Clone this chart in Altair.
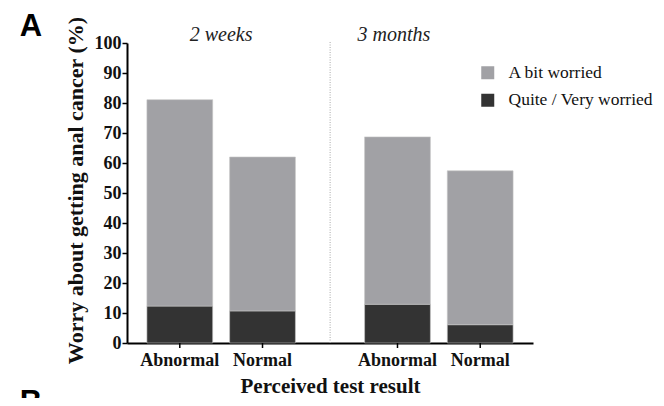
import altair as alt
import pandas as pd

SERIF = "Liberation Serif"

periods = ["2 weeks", "2 weeks", "3 months", "3 months"]
results = ["Abnormal", "Normal", "Abnormal", "Normal"]
quite_very = [12.3, 10.7, 12.9, 6.1]
a_bit = [68.8, 51.3, 55.8, 51.3]

period_order = ["2 weeks", "3 months"]
result_order = ["Abnormal", "Normal"]
levels = ["A bit worried", "Quite / Very worried"]
level_colors = ["#a1a1a5", "#333333"]
y_ticks = [0, 10, 20, 30, 40, 50, 60, 70, 80, 90, 100]

rows = []
for p, r, q, a in zip(periods, results, quite_very, a_bit):
    rows.append({"period": p, "result": r, "level": levels[1], "pct": q, "order": 0})
    rows.append({"period": p, "result": r, "level": levels[0], "pct": a, "order": 1})
df = pd.DataFrame(rows)
cats = pd.DataFrame({"period": periods, "result": results})

xscale = alt.Scale(paddingInner=0.24, paddingOuter=0.0525)
xoff = alt.XOffset("result:N", sort=result_order,
                   scale=alt.Scale(paddingInner=0.205, paddingOuter=0.1025))

bottom_axis = alt.Axis(
    orient="bottom", labels=False, ticks=False, domain=True,
    domainColor="black", domainWidth=2,
    title="Perceived test result", titleFont=SERIF, titleFontSize=21,
    titleFontWeight="bold", titleColor="#111", titleX=203, titleY=49,
    titleBaseline="alphabetic", titleAlign="center",
)

top_axis = alt.Axis(
    orient="top", domain=False, ticks=False, tickSize=0, labelAngle=0,
    labelFont=SERIF, labelFontSize=20, labelFontStyle="italic",
    labelBaseline="alphabetic", labelPadding=3, labelColor="#222",
    labelOffset={"condition": {"test": "datum.label == '3 months'", "value": -45}, "value": 0},
    title=None,
)

bars = alt.Chart(df).mark_bar(stroke="#c4c4c4", strokeWidth=0.6).encode(
    x=alt.X("period:N", sort=period_order, scale=xscale, axis=bottom_axis),
    xOffset=xoff,
    y=alt.Y("pct:Q", stack="zero",
            scale=alt.Scale(domain=[0, 100], nice=False),
            axis=alt.Axis(
                values=y_ticks, grid=False,
                title="Worry about getting anal cancer (%)",
                titleFont=SERIF, titleFontSize=22, titleFontWeight="bold",
                titleColor="#111", titleX=-52, titleY=147, titleAngle=-90,
                titleAlign="center", titleBaseline="middle",
                labelFont=SERIF, labelFontSize=18, labelFontWeight="bold",
                labelColor="#111", labelPadding=1, tickSize=5, tickWidth=1.5,
                tickColor="black", domainColor="black", domainWidth=2,
            )),
    color=alt.Color("level:N", scale=alt.Scale(domain=levels, range=level_colors),
                    legend=alt.Legend(
                        orient="none", legendX=352, legendY=21, title=None,
                        symbolType="square", symbolSize=169, symbolStrokeWidth=0,
                        labelFont=SERIF, labelFontSize=17.5, labelColor="#111",
                        labelOffset=12, rowPadding=8.5, padding=0,
                    )),
    order=alt.Order("order:Q"),
)

cat_labels = alt.Chart(cats).mark_text(
    font=SERIF, fontSize=18, fontWeight="bold", baseline="middle", color="#111"
).encode(
    x=alt.X("period:N", sort=period_order, scale=xscale, axis=None),
    xOffset=xoff,
    y=alt.value(318),
    text="result:N",
)

cat_ticks = alt.Chart(cats).mark_rule(strokeWidth=1.5, color="black").encode(
    x=alt.X("period:N", sort=period_order, scale=xscale, axis=None),
    xOffset=xoff,
    y=alt.value(300),
    y2=alt.value(305),
)

divider = alt.Chart(pd.DataFrame({"period": ["3 months"]})).mark_rule(
    strokeDash=[1, 1.5], color="#a8a8a8", strokeWidth=1, xOffset=-26
).encode(
    x=alt.X("period:N", sort=period_order, scale=xscale, bandPosition=0, axis=top_axis),
    y=alt.value(-1),
    y2=alt.value(300),
)

panel_letters = alt.Chart(pd.DataFrame({"t": ["A"]})).mark_text(
    font="Liberation Sans", fontSize=31, fontWeight="bold", color="black",
    align="center", baseline="alphabetic"
).encode(x=alt.value(-96), y=alt.value(-7), text="t:N")

panel_b = alt.Chart(pd.DataFrame({"t": ["B"]})).mark_text(
    font="Liberation Sans", fontSize=31, fontWeight="bold", color="black",
    align="center", baseline="top"
).encode(x=alt.value(-96), y=alt.value(345), text="t:N")

chart = alt.layer(bars, cat_ticks, cat_labels, divider, panel_letters, panel_b).resolve_axis(
    x="independent"
).properties(
    width=406, height=300,
    autosize=alt.AutoSizeParams(type="none"),
    padding={"left": 119, "top": 35, "right": 123, "bottom": 55},
).configure(
    background="white", font=SERIF
).configure_view(stroke=None).configure_axis(
    labelFont=SERIF, titleFont=SERIF
).configure_legend(labelFont=SERIF)

chart.save("out.html", embed_options={"renderer": "svg", "actions": False})
